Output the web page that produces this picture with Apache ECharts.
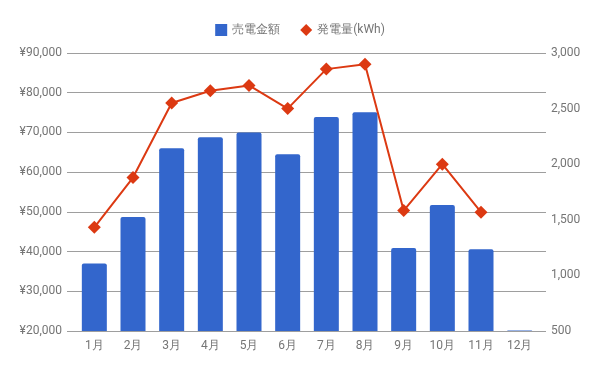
<!DOCTYPE html>
<html>
<head>
<meta charset="utf-8">
<script src="https://cdn.jsdelivr.net/npm/echarts@6/dist/echarts.min.js"></script>
<style>html,body{margin:0;padding:0;background:#fff}#c{width:600px;height:371px}</style>
</head>
<body>
<div id="c"></div>
<script>
const months = ['1月','2月','3月','4月','5月','6月','7月','8月','9月','10月','11月','12月'];
const salesYen = [37000, 48700, 66000, 68800, 70000, 64500, 73900, 75100, 40900, 51700, 40600, 20150];
const powerKWh = [1432, 1880, 2550, 2660, 2708, 2500, 2855, 2898, 1583, 2000, 1568, null];
const yenTicks = {min: 20000, max: 90000, interval: 10000};
const kwhTicks = {min: 500, max: 3000, interval: 500};

const txt = '#757575';
const grid = '#9e9e9e';
const font = 'Roboto, Arial, sans-serif';
const chart = echarts.init(document.getElementById('c'), null, {renderer: 'canvas'});
chart.setOption({
  animation: false,
  textStyle: {fontFamily: font},
  legend: {
    top: 19, left: 'center', itemGap: 20, itemWidth: 12, itemHeight: 12,
    textStyle: {color: txt, fontSize: 12, fontFamily: font},
    data: [{name: '売電金額', icon: 'rect'}, {name: '発電量(kWh)', icon: 'diamond'}]
  },
  grid: {left: 75, right: 61, top: 53, bottom: 40},
  xAxis: {
    type: 'category', data: months,
    axisLine: {show: false}, axisTick: {show: false},
    axisLabel: {color: txt, fontSize: 12, margin: 9, fontFamily: font}
  },
  yAxis: [
    {
      type: 'value', position: 'left', min: yenTicks.min, max: yenTicks.max, interval: yenTicks.interval,
      axisLine: {show: false},
      axisTick: {show: true, length: 8, lineStyle: {color: grid}},
      splitLine: {lineStyle: {color: grid, width: 1}},
      axisLabel: {color: txt, fontSize: 12, margin: 13, fontFamily: font,
        formatter: v => '¥' + v.toLocaleString('en-US')}
    },
    {
      type: 'value', position: 'right', min: kwhTicks.min, max: kwhTicks.max, interval: kwhTicks.interval,
      axisLine: {show: false}, axisTick: {show: false}, splitLine: {show: false},
      axisLabel: {color: txt, fontSize: 12, margin: 12, fontFamily: font,
        formatter: v => v.toLocaleString('en-US')}
    },
    {
      type: 'value', position: 'right', min: yenTicks.min, max: yenTicks.max, interval: yenTicks.interval,
      axisLine: {show: false}, splitLine: {show: false}, axisLabel: {show: false},
      axisTick: {show: true, length: 7, lineStyle: {color: grid}}
    }
  ],
  series: [
    {
      name: '売電金額', type: 'bar', data: salesYen, yAxisIndex: 0, barWidth: 25,
      itemStyle: {color: '#3366cc', borderRadius: [2, 2, 0, 0]}
    },
    {
      name: '発電量(kWh)', type: 'line', data: powerKWh, yAxisIndex: 1,
      symbol: 'diamond', symbolSize: 13, showSymbol: true,
      lineStyle: {color: '#dc3912', width: 2}, itemStyle: {color: '#dc3912'}
    }
  ]
});
</script>
</body>
</html>
